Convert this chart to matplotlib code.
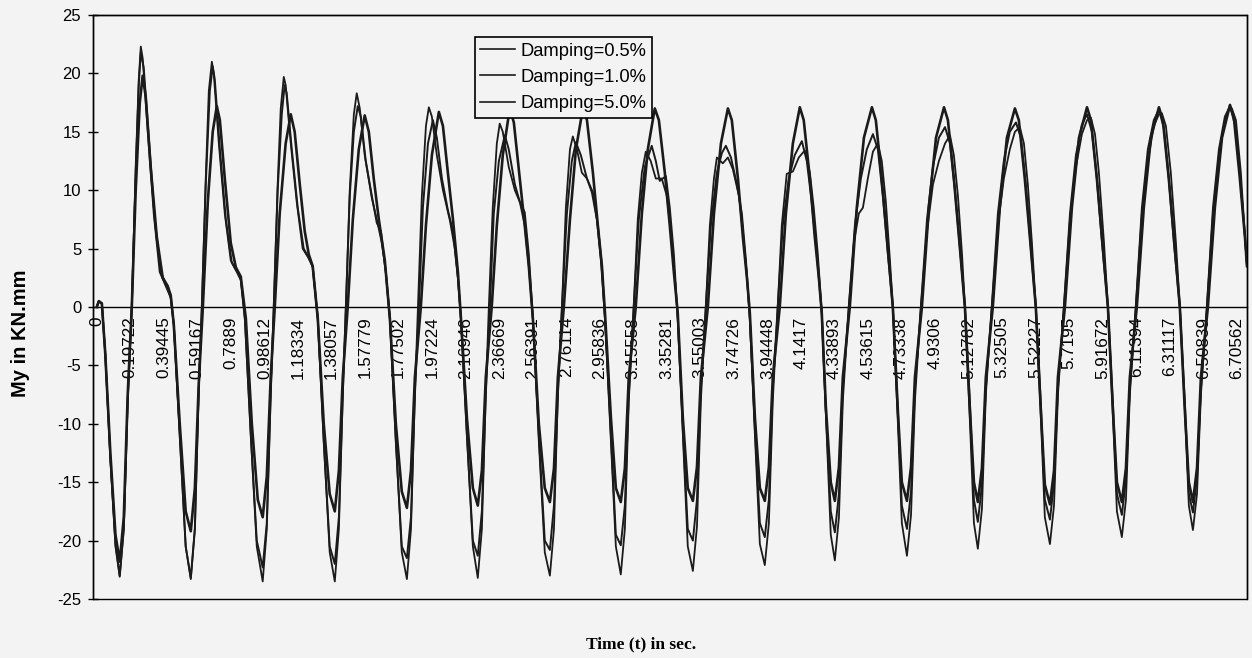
import matplotlib.pyplot as plt
from matplotlib.patches import Rectangle

plt.rcParams['font.family'] = ['Liberation Sans', 'DejaVu Sans']
plt.rcParams['axes.unicode_minus'] = False

# time of each trough (s); every cycle below is given as (ms after trough, My)
trough_t = [0.135, 0.553, 0.976, 1.400, 1.824, 2.241, 2.665, 3.082,
            3.506, 3.929, 4.341, 4.765, 5.182, 5.606, 6.029, 6.447]

# start of record, before the first trough
lead_t = [0.0, 0.012, 0.030, 0.050, 0.080, 0.110]
lead_05 = [0.0, 0.5, 0.3, -4.0, -13.0, -20.5]
lead_10 = [0.0, 0.5, 0.3, -4.0, -13.0, -20.3]
lead_50 = [0.0, 0.5, 0.3, -4.0, -12.5, -19.5]

cycles_05 = [
    [(0, -23.1), (24, -19.0), (47, -8.0), (71, 0.0), (94, 12.0), (112, 19.5), (124, 22.3), (135, 21.3),
     (165, 15.0), (200, 8.0), (235, 3.0), (276, 1.6), (300, 0.8), (318, -1.5), (353, -11.0), (388, -20.5)],
    [(0, -23.3), (24, -19.0), (47, -7.0), (65, 0.0), (88, 11.0), (106, 18.5), (124, 21.0), (135, 20.0),
     (165, 14.0), (200, 8.0), (235, 4.0), (265, 3.2), (294, 2.5), (318, -1.0), (353, -11.0), (388, -20.5)],
    [(0, -23.5), (24, -19.0), (47, -7.5), (65, 0.0), (88, 10.5), (106, 17.0), (124, 19.7), (135, 19.0),
     (165, 14.0), (200, 9.0), (235, 5.0), (265, 4.3), (294, 3.5), (324, -1.0), (359, -11.5), (394, -21.0)],
    [(0, -23.5), (24, -19.0), (47, -7.5), (65, 0.0), (88, 10.0), (112, 16.5), (129, 18.3), (147, 17.0),
     (176, 13.0), (218, 9.3), (247, 7.5), (276, 5.5), (300, 3.0), (324, -1.0), (359, -11.5), (394, -21.0)],
    [(0, -23.3), (24, -19.0), (47, -7.5), (65, 0.0), (88, 9.5), (112, 15.5), (129, 17.1), (147, 16.3),
     (176, 13.0), (212, 10.0), (253, 7.4), (282, 5.0), (300, 2.5), (318, -1.0), (353, -11.0), (388, -20.5)],
    [(0, -23.2), (24, -19.0), (47, -7.5), (65, 0.0), (88, 8.5), (112, 14.0), (129, 15.7), (147, 15.0),
     (182, 12.0), (218, 10.0), (247, 9.0), (276, 7.0), (300, 3.5), (324, -1.0), (359, -11.5), (394, -21.0)],
    [(0, -23.0), (24, -19.0), (47, -7.5), (71, 0.0), (94, 8.5), (118, 13.5), (135, 14.6), (159, 13.5),
     (188, 11.5), (218, 11.0), (247, 9.8), (276, 7.5), (300, 4.0), (324, -1.0), (359, -11.5), (388, -20.5)],
    [(0, -22.9), (24, -19.0), (47, -8.0), (76, 0.0), (100, 7.5), (124, 11.5), (147, 13.3), (176, 12.5),
     (206, 11.0), (241, 11.0), (271, 9.5), (294, 6.5), (318, 2.5), (335, -1.0), (365, -11.0), (394, -20.5)],
    [(0, -22.6), (24, -18.8), (47, -8.0), (76, 0.0), (100, 7.0), (124, 11.0), (141, 12.8), (176, 12.3),
     (206, 12.8), (235, 11.8), (271, 9.5), (294, 6.5), (318, 2.5), (335, -1.0), (365, -11.0), (394, -20.3)],
    [(0, -22.1), (24, -18.5), (47, -8.0), (76, 0.0), (100, 7.0), (129, 11.4), (165, 11.6), (200, 12.8),
     (235, 13.4), (265, 11.5), (288, 8.5), (312, 4.5), (335, -0.5), (359, -9.0), (388, -19.5)],
    [(0, -21.7), (24, -18.0), (47, -8.0), (82, 0.0), (112, 5.5), (141, 8.0), (165, 8.5), (194, 11.0),
     (224, 13.3), (253, 14.0), (276, 12.5), (300, 9.0), (324, 4.0), (341, 0.0), (371, -10.0), (394, -18.5)],
    [(0, -21.3), (24, -17.8), (47, -8.0), (82, 0.0), (118, 6.5), (153, 10.5), (188, 12.5), (224, 14.0),
     (253, 14.7), (276, 13.0), (300, 9.5), (324, 4.5), (341, 0.0), (371, -10.0), (394, -18.5)],
    [(0, -20.7), (24, -17.3), (47, -7.5), (82, 0.0), (118, 7.0), (153, 11.0), (188, 13.5), (218, 15.0),
     (247, 15.4), (271, 14.0), (294, 10.5), (318, 5.5), (341, 0.0), (371, -9.5), (394, -18.0)],
    [(0, -20.3), (24, -17.0), (47, -7.5), (82, 0.0), (118, 7.5), (153, 12.0), (188, 14.8), (218, 16.0),
     (241, 16.2), (265, 14.8), (288, 11.5), (318, 5.5), (341, 0.0), (371, -9.5), (394, -17.5)],
    [(0, -19.7), (24, -16.5), (47, -7.5), (82, 0.0), (118, 8.0), (153, 12.5), (188, 15.5), (218, 16.5),
     (235, 16.6), (259, 15.5), (288, 11.5), (318, 5.5), (341, 0.0), (371, -9.0), (394, -17.0)],
    [(0, -19.1), (24, -16.0), (47, -7.5), (82, 0.0), (118, 8.0), (153, 13.0), (188, 16.0), (212, 16.9),
     (229, 17.0), (253, 16.0), (282, 11.5), (306, 6.0), (318, 3.5)],
]

cycles_10 = [
    [(0, -23.0), (24, -19.0), (47, -8.0), (71, 0.0), (94, 11.5), (112, 19.0), (124, 21.8), (141, 20.5),
     (171, 14.5), (206, 7.5), (241, 3.0), (276, 1.8), (300, 0.8), (318, -1.5), (353, -11.0), (388, -20.5)],
    [(0, -23.2), (24, -19.0), (47, -7.0), (65, 0.0), (88, 10.5), (112, 18.5), (129, 20.6), (141, 19.5),
     (171, 13.5), (206, 7.5), (241, 3.8), (271, 3.0), (294, 2.3), (318, -1.0), (353, -11.0), (388, -20.0)],
    [(0, -22.3), (24, -18.5), (47, -7.5), (65, 0.0), (88, 10.0), (112, 16.5), (129, 19.0), (141, 18.3),
     (171, 13.5), (206, 8.5), (241, 5.0), (271, 4.2), (294, 3.4), (324, -1.0), (359, -11.5), (394, -20.5)],
    [(0, -22.0), (24, -18.0), (47, -7.5), (65, 0.0), (88, 9.5), (112, 15.0), (135, 17.2), (153, 16.3),
     (182, 12.5), (218, 9.5), (247, 7.2), (271, 6.5), (300, 3.0), (324, -1.0), (359, -11.5), (394, -20.5)],
    [(0, -21.5), (24, -18.0), (47, -7.5), (71, 0.0), (94, 8.5), (124, 14.0), (153, 16.0), (176, 14.5),
     (206, 11.0), (241, 8.3), (271, 6.5), (300, 2.5), (318, -1.0), (353, -11.0), (388, -20.0)],
    [(0, -21.3), (24, -17.5), (47, -7.5), (71, 0.0), (94, 8.0), (124, 12.5), (159, 14.7), (182, 13.5),
     (218, 10.5), (247, 9.0), (276, 8.1), (300, 4.5), (324, -1.0), (359, -11.0), (394, -20.0)],
    [(0, -20.8), (24, -17.0), (47, -7.5), (71, 0.0), (100, 8.0), (129, 12.5), (153, 14.1), (182, 13.0),
     (218, 11.0), (253, 9.8), (282, 7.0), (306, 3.5), (324, -1.0), (359, -11.0), (388, -19.5)],
    [(0, -20.4), (24, -17.0), (47, -7.5), (76, 0.0), (106, 7.5), (141, 12.0), (182, 13.8), (206, 12.5),
     (229, 10.8), (265, 11.2), (288, 8.5), (312, 4.5), (335, -1.0), (365, -10.5), (394, -19.0)],
    [(0, -20.0), (24, -16.5), (47, -7.0), (76, 0.0), (106, 7.0), (141, 11.5), (171, 13.2), (194, 13.8),
     (224, 12.8), (259, 10.5), (288, 8.0), (312, 4.0), (335, -1.0), (365, -10.5), (394, -18.5)],
    [(0, -19.7), (24, -16.5), (47, -7.0), (76, 0.0), (106, 7.0), (141, 11.0), (176, 13.0), (218, 14.2),
     (247, 12.5), (276, 9.0), (306, 4.5), (335, -0.5), (359, -9.0), (388, -17.5)],
    [(0, -19.3), (24, -16.0), (47, -7.0), (82, 0.0), (118, 7.0), (153, 11.0), (188, 13.5), (224, 14.8),
     (253, 13.5), (282, 9.5), (312, 4.5), (341, 0.0), (371, -9.0), (394, -17.0)],
    [(0, -19.0), (24, -15.8), (47, -7.0), (82, 0.0), (118, 7.5), (153, 12.0), (188, 14.5), (224, 15.4),
     (253, 14.0), (282, 10.0), (312, 5.0), (341, 0.0), (371, -8.5), (394, -16.5)],
    [(0, -18.4), (24, -15.3), (47, -7.0), (82, 0.0), (118, 8.0), (153, 12.5), (188, 15.0), (224, 15.8),
     (253, 14.5), (282, 10.5), (312, 5.0), (341, 0.0), (371, -8.5), (394, -16.5)],
    [(0, -18.2), (24, -15.1), (47, -7.0), (82, 0.0), (118, 8.0), (153, 13.0), (188, 15.6), (218, 16.5),
     (247, 15.0), (276, 11.0), (306, 5.5), (341, 0.0), (371, -8.5), (394, -16.0)],
    [(0, -17.8), (24, -14.8), (47, -7.0), (82, 0.0), (118, 8.5), (153, 13.5), (188, 16.0), (218, 16.9),
     (247, 15.3), (276, 11.0), (306, 5.5), (341, 0.0), (371, -8.3), (394, -16.0)],
    [(0, -17.6), (24, -14.6), (47, -7.0), (82, 0.0), (118, 8.5), (153, 13.5), (188, 16.3), (218, 17.2),
     (247, 15.6), (276, 11.5), (306, 6.0), (318, 3.5)],
]

cycles_50 = [
    [(0, -21.8), (24, -18.0), (47, -7.5), (71, 0.0), (94, 10.0), (118, 17.5), (135, 19.8), (153, 18.0),
     (182, 12.0), (218, 6.0), (253, 2.5), (282, 1.8), (300, 1.0), (318, -1.5), (353, -10.0), (388, -17.5)],
    [(0, -19.2), (24, -15.5), (47, -6.5), (71, 0.0), (100, 9.0), (129, 15.0), (153, 17.2), (171, 16.0),
     (200, 11.0), (235, 5.5), (265, 3.4), (294, 2.6), (324, -1.0), (359, -10.0), (394, -16.5)],
    [(0, -18.0), (24, -14.5), (47, -6.0), (71, 0.0), (100, 8.0), (135, 14.0), (165, 16.5), (188, 15.0),
     (218, 10.5), (247, 6.5), (271, 4.5), (294, 3.5), (324, -1.0), (359, -10.0), (394, -16.0)],
    [(0, -17.5), (24, -14.0), (47, -6.0), (76, 0.0), (106, 7.5), (141, 13.5), (176, 16.4), (200, 15.0),
     (229, 11.0), (259, 7.5), (294, 4.0), (324, -1.0), (359, -10.0), (394, -15.8)],
    [(0, -17.2), (24, -14.0), (47, -6.0), (82, 0.0), (112, 7.0), (147, 13.0), (188, 16.7), (212, 15.5),
     (241, 11.5), (271, 7.5), (300, 3.0), (318, -1.0), (353, -9.5), (388, -15.5)],
    [(0, -17.0), (24, -14.0), (47, -6.0), (82, 0.0), (112, 7.0), (147, 13.0), (188, 17.0), (212, 15.8),
     (247, 11.0), (276, 7.0), (300, 3.5), (324, -1.0), (359, -10.0), (394, -15.5)],
    [(0, -16.7), (24, -13.8), (47, -6.0), (82, 0.0), (118, 7.5), (153, 13.5), (194, 17.0), (218, 16.0),
     (253, 11.5), (282, 7.0), (306, 3.5), (324, -0.5), (359, -9.5), (388, -15.5)],
    [(0, -16.7), (24, -13.8), (47, -6.0), (88, 0.0), (124, 8.0), (159, 13.5), (200, 17.0), (224, 16.0),
     (259, 11.5), (288, 7.0), (312, 3.0), (335, -0.5), (365, -9.5), (394, -15.5)],
    [(0, -16.6), (24, -13.7), (47, -6.0), (88, 0.0), (124, 8.0), (165, 14.0), (206, 17.0), (229, 16.0),
     (265, 11.0), (294, 6.0), (318, 2.5), (335, -0.5), (365, -9.5), (394, -15.5)],
    [(0, -16.6), (24, -13.7), (47, -6.0), (88, 0.0), (124, 8.0), (165, 14.0), (206, 17.1), (229, 16.0),
     (265, 11.0), (294, 6.0), (318, 2.5), (335, -0.5), (359, -8.5), (388, -15.0)],
    [(0, -16.6), (24, -13.7), (47, -6.0), (88, 0.0), (129, 8.5), (171, 14.5), (218, 17.1), (241, 16.0),
     (276, 11.0), (306, 6.0), (341, 0.0), (371, -9.0), (394, -15.0)],
    [(0, -16.6), (24, -13.7), (47, -6.0), (88, 0.0), (129, 8.5), (171, 14.5), (218, 17.1), (241, 16.0),
     (276, 11.0), (306, 6.0), (341, 0.0), (371, -9.0), (394, -15.0)],
    [(0, -16.7), (24, -13.8), (47, -6.0), (88, 0.0), (129, 8.5), (171, 14.5), (218, 17.0), (241, 16.0),
     (276, 11.0), (306, 6.0), (341, 0.0), (371, -9.0), (394, -15.2)],
    [(0, -16.9), (24, -14.0), (47, -6.0), (88, 0.0), (129, 8.5), (171, 14.5), (218, 17.1), (241, 16.0),
     (276, 11.0), (306, 6.0), (341, 0.0), (371, -9.0), (394, -15.0)],
    [(0, -16.7), (24, -13.8), (47, -6.0), (88, 0.0), (129, 8.5), (171, 14.5), (218, 17.1), (241, 16.0),
     (276, 11.0), (306, 6.0), (341, 0.0), (371, -9.0), (394, -15.0)],
    [(0, -16.7), (24, -13.8), (47, -6.0), (88, 0.0), (129, 8.5), (171, 14.5), (218, 17.3), (241, 16.2),
     (276, 11.0), (306, 6.0), (318, 3.5)],
]

series_names = ['Damping=0.5%', 'Damping=1.0%', 'Damping=5.0%']

tick_t = [0.0, 0.19722, 0.39445, 0.59167, 0.7889, 0.98612, 1.18334, 1.38057, 1.57779,
          1.77502, 1.97224, 2.16946, 2.36669, 2.56391, 2.76114, 2.95836, 3.15558,
          3.35281, 3.55003, 3.74726, 3.94448, 4.1417, 4.33893, 4.53615, 4.73338,
          4.9306, 5.12782, 5.32505, 5.52227, 5.7195, 5.91672, 6.11394, 6.31117,
          6.50839, 6.70562]
tick_txt = ['0', '0.19722', '0.39445', '0.59167', '0.7889', '0.98612', '1.18334',
            '1.38057', '1.57779', '1.77502', '1.97224', '2.16946', '2.36669',
            '2.56391', '2.76114', '2.95836', '3.15558', '3.35281', '3.55003',
            '3.74726', '3.94448', '4.1417', '4.33893', '4.53615', '4.73338',
            '4.9306', '5.12782', '5.32505', '5.52227', '5.7195', '5.91672',
            '6.11394', '6.31117', '6.50839', '6.70562']


def build(lead_y, cycles):
    t = list(lead_t)
    y = list(lead_y)
    for t0, cyc in zip(trough_t, cycles):
        for ms, v in cyc:
            t.append(t0 + ms / 1000.0)
            y.append(v)
    return t, y


bg = '#f3f3f3'
fig = plt.figure(figsize=(12.52, 6.58), dpi=100, facecolor=bg)
ax = fig.add_axes([0.0743, 0.0897, 0.9217, 0.8875], facecolor=bg)

for (lead_y, cycles), name, lw in zip([(lead_05, cycles_05), (lead_10, cycles_10), (lead_50, cycles_50)],
                                       series_names, [1.3, 1.4, 1.9]):
    t, y = build(lead_y, cycles)
    ax.plot(t, y, color='#1b1b1b', lw=lw, label=name, zorder=3)

ax.set_xlim(-0.022, 6.765)
ax.set_ylim(-25, 25)

# category axis crosses at zero, plot area keeps its own frame
ax.spines['bottom'].set_position(('data', 0))
ax.spines['bottom'].set_linewidth(1.0)
for s in ['left', 'top', 'right']:
    ax.spines[s].set_linewidth(1.0)
ax.add_patch(Rectangle((0, 0), 1, 1, transform=ax.transAxes, fill=False,
                       lw=1.0, edgecolor='black', zorder=2.6, clip_on=False))

ax.set_xticks(tick_t, labels=tick_txt, rotation=90, fontsize=12.3)
ax.tick_params(axis='x', length=0, pad=7)
ax.set_yticks(range(-25, 26, 5))
ax.tick_params(axis='y', direction='inout', length=7, width=1, pad=5, labelsize=12)

ax.set_ylabel('My in KN.mm', fontsize=14.5, fontweight='bold')
ax.yaxis.set_label_coords(-0.055, 0.455)
fig.text(0.512, 0.02, 'Time (t) in sec.', family=['Liberation Serif', 'DejaVu Serif'],
         fontweight='bold', fontsize=12.5, ha='center', va='center')

leg = ax.legend(loc='upper left', bbox_to_anchor=(0.331, 0.962), fontsize=13.2,
                frameon=True, fancybox=False, edgecolor='black', facecolor=bg,
                framealpha=1, handlelength=1.9, handletextpad=0.3,
                labelspacing=0.5, borderpad=0.3, borderaxespad=0)
leg.get_frame().set_linewidth(1.2)
for line in leg.get_lines():
    line.set_linewidth(1.2)

fig.savefig('out.png', dpi=100, facecolor=bg)
